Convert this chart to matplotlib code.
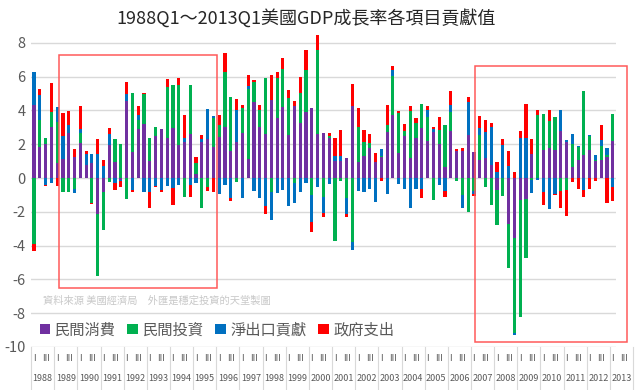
import numpy as np
import matplotlib
matplotlib.use("Agg")
import matplotlib.pyplot as plt
from matplotlib.patches import Patch, Rectangle

plt.rcParams["font.family"] = ["Noto Sans CJK TC", "DejaVu Sans"]
plt.rcParams["axes.unicode_minus"] = False

# quarterly contributions (percentage points), 1988Q1 .. 2013Q1
years = list(range(1988, 2014))
quarters = [f"{y}Q{q}" for y in years for q in range(1, 5)][:101]

consumption = [
    4.3, 1.85, 2.0, 3.05, 0.9, 1.1, 2.65, 1.22, 2.05, 0.8,
    0.9, -2.1, -0.8, 1.97, 0.95, -0.1, 4.55, 1.55, 2.9, 3.2,
    1.0, 2.5, 2.9, 2.4, 2.95, 1.97, 2.15, 2.6, 0.25, 2.15,
    2.3, 1.85, 2.45, 3.05, 1.6, 2.15, 2.65, 1.1, 4.5, 3.0,
    2.6, 4.6, 3.55, 4.2, 2.56, 4.24, 3.25, 3.89, 4.15, 2.62,
    2.66, 2.37, 1.0, 1.0, 1.18, 4.24, 0.93, 1.32, 1.8, 0.93,
    1.26, 2.72, 3.75, 1.48, 2.47, 1.18, 2.4, 2.96, 2.2, 2.7,
    2.03, 0.63, 2.76, 1.62, 1.58, 2.52, 1.54, 1.07, 1.18, 0.79,
    -0.69, 0.0, -2.7, -3.55, -1.3, -1.24, 1.42, 0.0, 1.68, 1.78,
    1.68, 2.76, 2.13, 0.63, 1.08, 1.38, 1.68, 0.99, 1.05, 1.24,
    2.21,
]
investment = [
    -3.9, 1.6, 0.4, 0.85, 2.4, -0.85, -0.8, -0.65, 0.63, 0.0,
    -1.45, -3.7, -2.25, -0.25, 1.38, 2.0, -1.25, 3.5, 0.55, 1.75,
    1.4, 0.5, 0.0, 3.0, 2.55, 3.55, -1.15, 2.9, 0.65, -1.75,
    -0.55, 1.7, 0.7, 3.2, 3.2, -0.25, 1.5, 4.2, 1.2, 1.05,
    3.3, -0.85, 2.4, 2.25, 2.17, -0.3, 1.78, 2.52, -1.0, 4.97,
    -1.1, 0.1, -3.75, -0.2, -1.2, -3.77, 2.07, 0.81, 0.25, 0.0,
    0.05, 0.4, 2.27, 2.37, 0.3, 2.8, 0.85, 1.45, 1.44, -1.28,
    0.79, 2.52, 1.14, -0.16, -1.0, -2.0, -0.75, 1.46, -0.55, -1.62,
    -2.07, -1.08, -2.62, -5.6, -6.9, -3.5, -0.14, 3.75, 2.13, 1.62,
    1.93, -0.75, -0.73, 1.4, 0.73, 3.75, 0.79, 0.1, 0.87, 0.14,
    1.58,
]
net_exports = [
    2.0, 1.48, -0.4, -0.3, 0.9, 1.4, 0.5, -0.25, 0.25, 0.65,
    0.55, 1.45, 0.7, 0.63, -0.3, -0.05, 0.45, -0.7, 0.3, -0.85,
    -0.85, -0.45, -0.7, -0.5, -0.6, -0.4, 0.2, -0.4, -0.3, 0.15,
    1.8, 0.1, -0.95, -0.4, -1.2, 1.85, -1.2, 0.15, -0.75, -1.2,
    -1.65, -1.65, -0.9, -0.7, -1.68, -1.2, -0.83, -0.3, -1.6, -0.55,
    -0.95, -0.35, 0.3, 0.3, -0.95, -0.5, -0.75, -0.8, -0.65, -1.42,
    0.43, -0.95, 0.4, -0.35, -0.63, -1.78, -0.63, -0.63, 0.4, 0.2,
    -0.43, -0.79, 0.43, 0.0, -0.75, 1.97, -0.2, 0.43, 1.54, 2.23,
    0.36, 1.97, 0.73, -0.16, 2.37, 2.37, -0.75, -0.1, -0.85, -1.81,
    -0.95, 1.28, 0.1, 0.59, 0.1, -0.73, 0.1, 0.3, 0.36, 0.39,
    -0.53,
]
government = [
    -0.4, 0.33, -0.1, 1.7, -0.5, 1.35, 0.8, 0.5, 1.35, 0.15,
    -0.1, 0.85, 0.35, 0.35, -0.4, -0.4, 0.67, -0.1, 0.5, 0.1,
    -0.9, -0.1, -0.15, 0.45, -1.0, 0.4, 1.4, -0.7, 0.35, 0.25,
    -0.2, -0.8, 0.6, 1.15, -0.15, 0.65, 0.15, 0.65, 0.1, 0.25,
    -0.45, 1.5, 0.3, 0.65, 0.5, 0.3, 0.93, 1.18, -0.6, 0.89,
    -0.25, 0.2, 1.08, 1.52, -0.15, 1.32, 1.14, 0.73, 0.55, 0.55,
    -0.2, 1.18, 0.2, 0.14, 0.43, 0.3, 0.33, -0.55, 0.2, 0.12,
    0.77, -0.36, 0.83, 0.12, 0.2, 0.3, -0.14, 0.69, 0.71, 0.24,
    0.59, 0.36, 0.89, 0.36, 0.43, 2.0, 0.89, 0.3, -0.73, 0.65,
    -0.08, -1.03, -1.5, -0.24, -0.65, -0.39, -0.65, -0.2, 0.85, -1.48,
    -0.85,
]

series_names = ["民間消費", "民間投資", "淨出口貢獻", "政府支出"]
colors = ["#7030A0", "#00B050", "#0070C0", "#FF0000"]

grey = "#595959"
light = "#d9d9d9"

fig = plt.figure(figsize=(6.4, 3.9), dpi=100)
ax = fig.add_axes([0.0486, 0.1103, 0.9135, 0.823])

data = np.array([consumption, investment, net_exports, government])
x = np.arange(len(quarters))
pos_base = np.zeros(len(x))
neg_base = np.zeros(len(x))
# positives stack upward, negatives stack downward, in series order
for vals, c in zip(data, colors):
    pos = np.clip(vals, 0, None)
    neg = np.clip(vals, None, 0)
    ax.bar(x, pos, 0.55, bottom=pos_base, color=c, linewidth=0, zorder=3)
    ax.bar(x, neg, 0.55, bottom=neg_base, color=c, linewidth=0, zorder=3)
    pos_base += pos
    neg_base += neg

ax.set_xlim(-0.5, len(x) - 0.5)
ax.set_ylim(-10, 9)
ax.set_yticks(range(-10, 9, 2))
ax.yaxis.grid(True, color=light, linewidth=1.0, zorder=0)
ax.set_axisbelow(True)
for s in ax.spines.values():
    s.set_visible(False)
ax.tick_params(axis="y", length=0, pad=4, labelsize=10.5, labelcolor=grey)
ax.set_xticks([])

# two-level category axis: quarter (I / III) and year
tr = ax.get_xaxis_transform()
for k, y in enumerate(years):
    q0 = 4 * k
    ax.text(q0, -0.037, "I", transform=tr, ha="center", va="center",
            fontsize=6.5, color=grey, clip_on=False)
    ax.text(q0 + 2, -0.037, "III", transform=tr, ha="center", va="center",
            fontsize=6.5, color=grey, clip_on=False)
    ax.text(q0 + 1.5, -0.097, str(y), transform=tr, ha="center", va="center",
            fontsize=6.5, color=grey, clip_on=False)
for k in range(len(years) + 1):
    ax.plot([4 * k - 0.5] * 2, [0, -0.14], transform=tr, color=light,
            linewidth=0.8, clip_on=False)

# highlighted periods
spans = [("1989Q1", "1995Q4", -6.53, 7.28, 0.87, 0.07),
         ("2007Q1", "2013Q1", -9.69, 6.64, 0.6, 1.9)]
for a, b, y0, y1, pl, pr in spans:
    i0 = quarters.index(a) - 0.5 + pl
    i1 = quarters.index(b) + 0.5 + pr
    ax.add_patch(Rectangle((i0, y0), i1 - i0, y1 - y0, fill=False,
                           edgecolor="#ff5a5a", linewidth=1.1,
                           clip_on=False, zorder=4))

ax.text(0.0205, 0.146, "資料來源 美國經濟局　外匯是穩定投資的天堂製圖",
        transform=ax.transAxes, fontsize=7.4, color="#c8c8c8",
        ha="left", va="center")

handles = [Patch(facecolor=c, edgecolor="none") for c in colors]
leg = ax.legend(handles, series_names, loc="center left",
                bbox_to_anchor=(0.004, 0.053), ncol=4, frameon=False,
                fontsize=11, handlelength=0.7, handleheight=0.7,
                handletextpad=0.3, columnspacing=0.75, borderaxespad=0)
for t in leg.get_texts():
    t.set_color(grey)

fig.text(0.478, 0.954, "1988Q1～2013Q1美國GDP成長率各項目貢獻值",
         ha="center", va="center", fontsize=13, color="#262626")

fig.savefig("out.png", dpi=100)
